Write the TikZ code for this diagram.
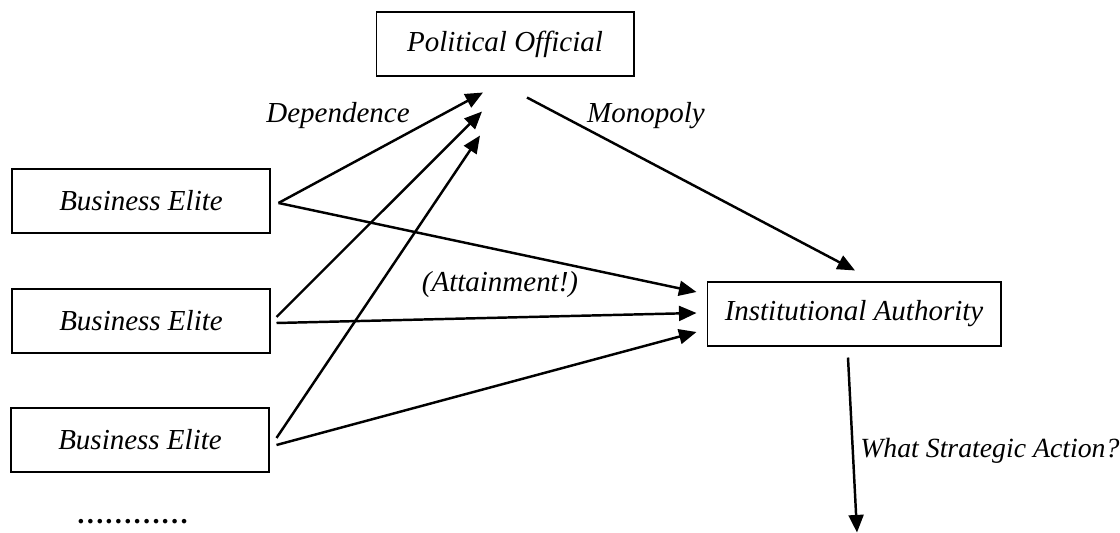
\documentclass[tikz,border=0pt]{standalone}
\usepackage{fontspec}
\setmainfont{Liberation Serif}
\usetikzlibrary{arrows.meta,calc}
\begin{document}
\begin{tikzpicture}[x=0.02cm,y=-0.02cm,
  txt/.style={font=\fontsize{16.5}{19}\selectfont\itshape},
  actor/.style={txt,draw,line width=0.6pt,inner sep=0pt,minimum height=1.28cm},
  link/.style={line width=1.4pt,-{Triangle[length=10pt,width=8.5pt]}},
  lbl/.style={txt,anchor=base,inner sep=0pt}]
\useasboundingbox (0,0) rectangle (1120,533);

% boxes
\node[actor,minimum width=5.16cm] (po) at (505,44) {Political Official};
\node[actor,minimum width=5.16cm] (be1) at (141,201) {Business Elite};
\node[actor,minimum width=5.16cm] (be2) at (141,321) {Business Elite};
\node[actor,minimum width=5.16cm] (be3) at (140,440) {Business Elite};
\node[actor,minimum width=5.88cm] (ia) at (854,314) {Institutional Authority};

% arrow ends near the two target boxes
\coordinate (p1) at ($(po.south)+(-22,16)$);
\coordinate (p2) at ($(po.south)+(-23,35)$);
\coordinate (p3) at ($(po.south)+(-25,59)$);
\coordinate (i1) at ($(ia.west)+(-10,-22)$);
\coordinate (i2) at ($(ia.west)+(-10,-1)$);
\coordinate (i3) at ($(ia.west)+(-10,18)$);
\coordinate (m0) at ($(po.south)+(22,21)$);
\coordinate (m1) at ($(ia.north)+(1,-11)$);
\coordinate (s0) at ($(ia.south)+(-6,11)$);
\coordinate (s1) at ($(ia.south)+(3,186)$);

% business elites towards the official
\draw[link] ([shift={(8,2)}]be1.east) -- (p1);
\draw[link] ([shift={(6,-4)}]be2.east) -- (p2);
\draw[link] ([shift={(7,-2)}]be3.east) -- (p3);

% business elites towards the authority
\draw[link] ([shift={(8,2)}]be1.east) -- (i1);
\draw[link] ([shift={(6,2)}]be2.east) -- (i2);
\draw[link] ([shift={(7,5)}]be3.east) -- (i3);

% official to authority, authority onward
\draw[link] (m0) -- (m1);
\draw[link] (s0) -- (s1);

% labels
\node[lbl] (dep) at (338,123) {Dependence};
\node[lbl] (mon) at (646,123) {Monopoly};
\node[lbl] (att) at (500,292) {(Attainment!)};
\node[lbl,anchor=base west,font=\fontsize{15.8}{19}\selectfont\itshape] (wsa) at (860,458) {What Strategic Action?};
\node[lbl,anchor=base west,text depth=0pt,font=\fontsize{16}{19}\selectfont\bfseries] (more) at (76,524) {…………};
\end{tikzpicture}
\end{document}
